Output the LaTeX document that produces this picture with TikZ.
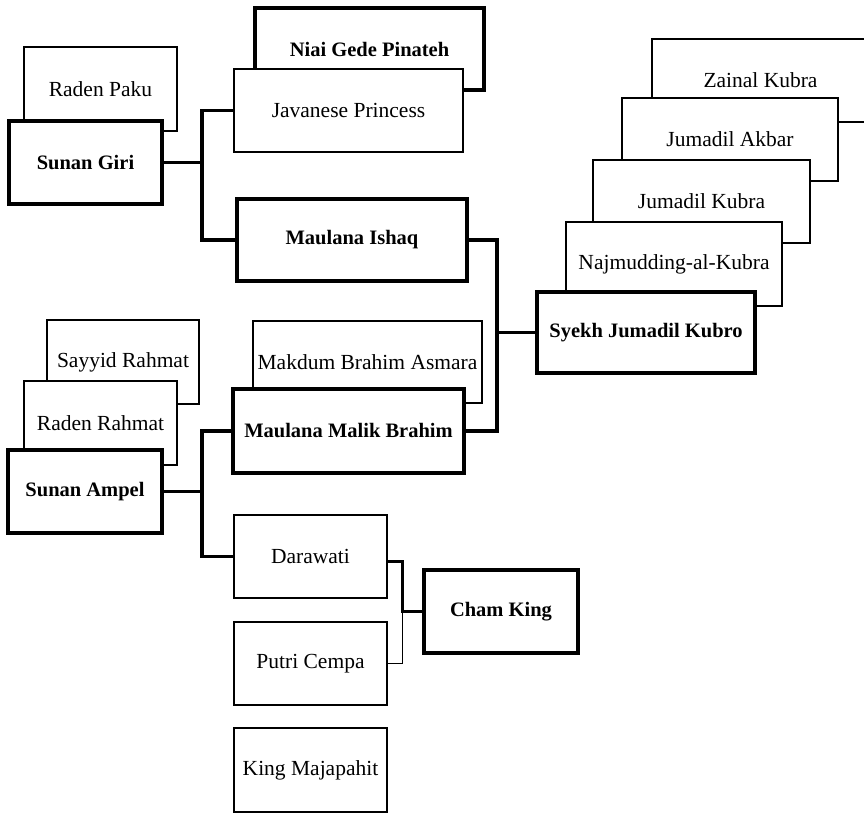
\documentclass[tikz,border=0pt]{standalone}
\usepackage{fontspec}
\setmainfont{Liberation Serif}
\begin{document}
\begin{tikzpicture}[x=1pt,y=-1pt,
  person/.style={draw=black, fill=white, line width=1.2pt, inner sep=0pt,
    align=center, font=\fontsize{21.5}{25}\selectfont},
  keyperson/.style={person, line width=3.5pt, font=\fontsize{20.5}{24}\selectfont\bfseries},
  wire/.style={line width=3.5pt, line cap=butt, line join=miter},
  thinwire/.style={line width=1.2pt}]
\useasboundingbox (0,0) rectangle (864,813);
\clip (0,0) rectangle (864,813);

% Sunan Giri branch
\node[person, minimum width=153pt, minimum height=84pt] (paku) at (100.5,89) {Raden Paku};
\node[keyperson, minimum width=153pt, minimum height=83pt] (giri) at (85.5,162.5) {Sunan Giri};
\node[keyperson, minimum width=229pt, minimum height=82pt] (niai) at (369.5,49) {Niai Gede Pinateh};
\node[person, minimum width=229pt, minimum height=83pt] (javanese) at (348.5,110.5) {Javanese Princess};
\node[keyperson, minimum width=230pt, minimum height=82pt] (ishaq) at (352,240) {Maulana Ishaq};

% Ancestors of Syekh Jumadil Kubro
\node[person, minimum width=217pt, minimum height=83pt] (zainal) at (760.5,80.5) {Zainal Kubra};
\node[person, minimum width=216pt, minimum height=83pt] (akbar) at (730,139.5) {Jumadil Akbar};
\node[person, minimum width=217pt, minimum height=83pt] (jkubra) at (701.5,201.5) {Jumadil Kubra};
\node[person, minimum width=216pt, minimum height=84pt] (najm) at (674,264) {Najmudding-al-Kubra};
\node[keyperson, minimum width=218pt, minimum height=81pt] (syekh) at (646,332.5) {Syekh Jumadil Kubro};

% Sunan Ampel branch
\node[person, minimum width=152pt, minimum height=84pt] (sayyid) at (123,362) {Sayyid Rahmat};
\node[person, minimum width=153pt, minimum height=84pt] (rahmat) at (100.5,423) {Raden Rahmat};
\node[keyperson, minimum width=154pt, minimum height=83pt] (ampel) at (85,491.5) {Sunan Ampel};
\node[person, minimum width=229pt, minimum height=82pt] (makdum) at (367.5,362) {Makdum Brahim Asmara};
\node[keyperson, minimum width=231pt, minimum height=84pt] (malik) at (348.5,431) {Maulana Malik Brahim};

% Maternal line
\node[person, minimum width=153pt, minimum height=83pt] (darawati) at (310.5,556.5) {Darawati};
\node[person, minimum width=153pt, minimum height=83pt] (putri) at (310.5,663.5) {Putri Cempa};
\node[person, minimum width=153pt, minimum height=84pt] (majapahit) at (310.5,770) {King Majapahit};
\node[keyperson, minimum width=154pt, minimum height=83pt] (cham) at (501,611.5) {Cham King};

% Connectors
\draw[wire] (giri.east) -- ++(38,0) coordinate (gbus) |- (javanese.west);
\draw[wire] (gbus) |- (ishaq.west);

\coordinate (sbus) at (497,0);
\draw[wire] (ishaq.east) -| (sbus |- malik.east) -- (malik.east);
\draw[wire] (sbus |- syekh.west) -- (syekh.west);

\draw[wire] (ampel.east) -- ++(38,0) coordinate (abus) |- (malik.west);
\draw[wire] (abus) |- (darawati.west);

\draw[thinwire] (putri.east) -- ++(15,0) coordinate (pbus) -- (pbus |- cham.west);
\draw[wire] ([yshift=-5pt]darawati.east) -- ++(15,0) |- (cham.west);
\end{tikzpicture}
\end{document}
